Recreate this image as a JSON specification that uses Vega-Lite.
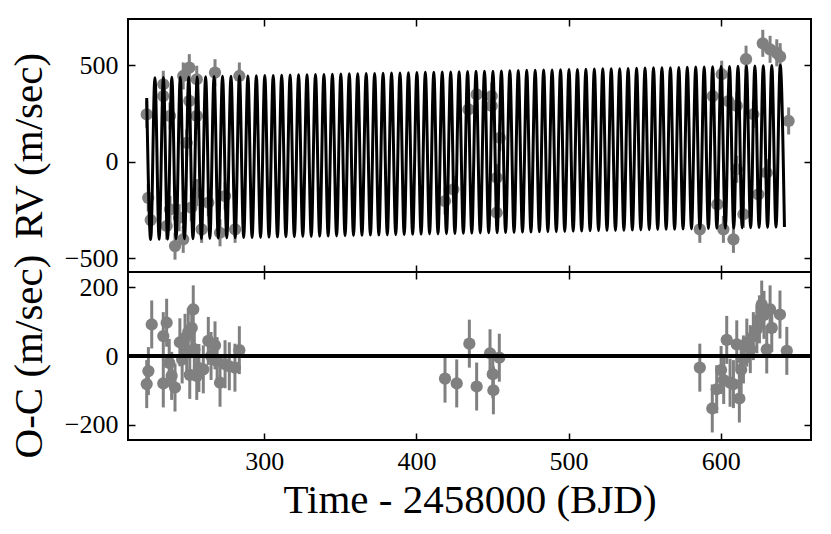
{
"$schema": "https://vega.github.io/schema/vega-lite/v6.json",
"padding": {"left": 7, "top": 17, "right": 15, "bottom": 5},
"bounds": "flush",
"spacing": 0,
"config": {
"view": {"stroke": "black", "strokeWidth": 2},
"font": "Liberation Serif",
"axis": {"labelFont": "Liberation Serif", "titleFont": "Liberation Serif", "labelFontSize": 26, "titleFontSize": 41, "titleFontWeight": "normal", "labelColor": "black", "titleColor": "black", "tickColor": "black", "tickSize": -7, "tickWidth": 1.5, "domain": false, "grid": false, "labelPadding": 17, "titlePadding": 14}
},
"datasets": {
"model": [
{"t":222.7,"v":330},{"t":225.32,"v":-403},
{"t":228.10,"v":435},{"t":230.88,"v":-402},{"t":233.66,"v":436},{"t":236.43,"v":-401},{"t":239.21,"v":437},{"t":241.99,"v":-400},{"t":244.77,"v":438},{"t":247.54,"v":-399},
{"t":250.32,"v":438},{"t":253.10,"v":-399},{"t":255.88,"v":439},{"t":258.65,"v":-398},{"t":261.43,"v":440},{"t":264.21,"v":-397},{"t":266.99,"v":441},{"t":269.76,"v":-396},{"t":272.54,"v":442},{"t":275.32,"v":-395},
{"t":278.10,"v":443},{"t":280.87,"v":-394},{"t":283.65,"v":444},{"t":286.43,"v":-393},{"t":289.21,"v":444},{"t":291.98,"v":-393},{"t":294.76,"v":445},{"t":297.54,"v":-392},{"t":300.32,"v":446},{"t":303.09,"v":-391},
{"t":305.87,"v":447},{"t":308.65,"v":-390},{"t":311.43,"v":448},{"t":314.20,"v":-389},{"t":316.98,"v":449},{"t":319.76,"v":-388},{"t":322.54,"v":450},{"t":325.31,"v":-387},{"t":328.09,"v":450},{"t":330.87,"v":-387},
{"t":333.65,"v":451},{"t":336.42,"v":-386},{"t":339.20,"v":452},{"t":341.98,"v":-385},{"t":344.76,"v":453},{"t":347.53,"v":-384},{"t":350.31,"v":454},{"t":353.09,"v":-383},{"t":355.87,"v":455},{"t":358.64,"v":-382},
{"t":361.42,"v":456},{"t":364.20,"v":-381},{"t":366.98,"v":457},{"t":369.75,"v":-380},{"t":372.53,"v":457},{"t":375.31,"v":-380},{"t":378.09,"v":458},{"t":380.86,"v":-379},{"t":383.64,"v":459},{"t":386.42,"v":-378},
{"t":389.20,"v":460},{"t":391.97,"v":-377},{"t":394.75,"v":461},{"t":397.53,"v":-376},{"t":400.31,"v":462},{"t":403.08,"v":-375},{"t":405.86,"v":463},{"t":408.64,"v":-374},{"t":411.42,"v":463},{"t":414.19,"v":-374},
{"t":416.97,"v":464},{"t":419.75,"v":-373},{"t":422.53,"v":465},{"t":425.30,"v":-372},{"t":428.08,"v":466},{"t":430.86,"v":-371},{"t":433.64,"v":467},{"t":436.41,"v":-370},{"t":439.19,"v":468},{"t":441.97,"v":-369},
{"t":444.75,"v":469},{"t":447.52,"v":-368},{"t":450.30,"v":469},{"t":453.08,"v":-368},{"t":455.86,"v":470},{"t":458.63,"v":-367},{"t":461.41,"v":471},{"t":464.19,"v":-366},{"t":466.97,"v":472},{"t":469.74,"v":-365},
{"t":472.52,"v":473},{"t":475.30,"v":-364},{"t":478.08,"v":474},{"t":480.85,"v":-363},{"t":483.63,"v":475},{"t":486.41,"v":-362},{"t":489.19,"v":475},{"t":491.96,"v":-362},{"t":494.74,"v":476},{"t":497.52,"v":-361},
{"t":500.30,"v":477},{"t":503.07,"v":-360},{"t":505.85,"v":478},{"t":508.63,"v":-359},{"t":511.41,"v":479},{"t":514.18,"v":-358},{"t":516.96,"v":480},{"t":519.74,"v":-357},{"t":522.52,"v":481},{"t":525.29,"v":-356},
{"t":528.07,"v":481},{"t":530.85,"v":-356},{"t":533.63,"v":482},{"t":536.40,"v":-355},{"t":539.18,"v":483},{"t":541.96,"v":-354},{"t":544.74,"v":484},{"t":547.51,"v":-353},{"t":550.29,"v":485},{"t":553.07,"v":-352},
{"t":555.85,"v":486},{"t":558.62,"v":-351},{"t":561.40,"v":487},{"t":564.18,"v":-350},{"t":566.96,"v":487},{"t":569.73,"v":-350},{"t":572.51,"v":488},{"t":575.29,"v":-349},{"t":578.07,"v":489},{"t":580.84,"v":-348},
{"t":583.62,"v":490},{"t":586.40,"v":-347},{"t":589.18,"v":491},{"t":591.95,"v":-346},{"t":594.73,"v":492},{"t":597.51,"v":-345},{"t":600.29,"v":493},{"t":603.06,"v":-344},{"t":605.84,"v":493},{"t":608.62,"v":-344},
{"t":611.40,"v":494},{"t":614.17,"v":-343},{"t":616.95,"v":495},{"t":619.73,"v":-342},{"t":622.51,"v":496},{"t":625.28,"v":-341},{"t":628.06,"v":497},{"t":630.84,"v":-340},{"t":633.62,"v":498},{"t":636.39,"v":-339},
{"t":639.17,"v":499},{"t":641.95,"v":-338}
],
"rv": [
{"t":222.7,"rv":245,"err":70},{"t":223.7,"rv":-187,"err":70},{"t":225.3,"rv":-302,"err":70},{"t":233.6,"rv":401,"err":70},{"t":233.6,"rv":340,"err":70},
{"t":238.0,"rv":237,"err":70},{"t":241.3,"rv":-437,"err":70},{"t":246.7,"rv":-402,"err":70},{"t":246.7,"rv":444,"err":70},{"t":250.7,"rv":487,"err":70},
{"t":255.6,"rv":427,"err":70},{"t":250.7,"rv":315,"err":70},{"t":255.6,"rv":237,"err":70},{"t":238.0,"rv":-247,"err":70},{"t":235.8,"rv":-333,"err":70},
{"t":258.8,"rv":-350,"err":70},{"t":263.2,"rv":-212,"err":70},{"t":267.6,"rv":461,"err":70},{"t":270.9,"rv":-368,"err":70},{"t":274.2,"rv":-178,"err":70},
{"t":280.8,"rv":-350,"err":70},{"t":283.6,"rv":444,"err":70},{"t":249.0,"rv":98,"err":70},{"t":255.6,"rv":-160,"err":70},{"t":244.0,"rv":-290,"err":70},
{"t":252.0,"rv":-238,"err":70},
{"t":418.8,"rv":-204,"err":70},{"t":424.3,"rv":-143,"err":70},{"t":434.2,"rv":271,"err":70},{"t":439.6,"rv":349,"err":70},{"t":449.5,"rv":340,"err":70},
{"t":449.5,"rv":289,"err":70},{"t":454.8,"rv":124,"err":70},{"t":452.8,"rv":-264,"err":70},{"t":452.8,"rv":-83,"err":70},
{"t":586.3,"rv":-350,"err":70},{"t":594.8,"rv":340,"err":70},{"t":597.8,"rv":-221,"err":70},{"t":600.7,"rv":453,"err":70},{"t":601.8,"rv":-350,"err":70},
{"t":605.1,"rv":314,"err":70},{"t":608.4,"rv":-402,"err":70},{"t":610.6,"rv":289,"err":70},{"t":615.0,"rv":-272,"err":70},{"t":616.7,"rv":531,"err":70},
{"t":621.5,"rv":246,"err":70},{"t":624.8,"rv":-169,"err":70},{"t":627.7,"rv":613,"err":70},{"t":632.5,"rv":582,"err":70},{"t":636.9,"rv":564,"err":70},
{"t":639.1,"rv":544,"err":70},{"t":644.7,"rv":211,"err":70},{"t":610.6,"rv":-39,"err":70},{"t":630.3,"rv":-57,"err":70}
],
"oc": [
{"t":222.7,"oc":-82,"err":70},{"t":223.8,"oc":-44,"err":70},{"t":226.0,"oc":92,"err":70},{"t":233.6,"oc":58,"err":70},{"t":233.6,"oc":-80,"err":70},
{"t":235.8,"oc":97,"err":70},{"t":239.1,"oc":-58,"err":70},{"t":241.3,"oc":-92,"err":70},{"t":237.5,"oc":-20,"err":70},{"t":244.5,"oc":40,"err":70},
{"t":246.0,"oc":-10,"err":70},{"t":247.9,"oc":53,"err":70},{"t":249.0,"oc":10,"err":70},{"t":250.0,"oc":70,"err":70},{"t":251.0,"oc":-55,"err":70},
{"t":252.3,"oc":82,"err":70},{"t":253.3,"oc":136,"err":70},{"t":254.0,"oc":20,"err":70},{"t":255.6,"oc":-58,"err":70},{"t":257.0,"oc":-35,"err":70},
{"t":259.9,"oc":-39,"err":70},{"t":263.2,"oc":44,"err":70},{"t":265.0,"oc":0,"err":70},{"t":267.6,"oc":31,"err":70},{"t":269.0,"oc":-15,"err":70},
{"t":270.9,"oc":-78,"err":70},{"t":274.2,"oc":-24,"err":70},{"t":277.0,"oc":-30,"err":70},{"t":280.7,"oc":-34,"err":70},{"t":283.6,"oc":17,"err":70},
{"t":418.8,"oc":-66,"err":70},{"t":426.5,"oc":-80,"err":70},{"t":434.8,"oc":36,"err":70},{"t":439.6,"oc":-89,"err":70},{"t":448.4,"oc":8,"err":70},
{"t":450.2,"oc":-53,"err":70},{"t":450.6,"oc":-100,"err":70},{"t":454.5,"oc":-5,"err":70},
{"t":586.3,"oc":-34,"err":70},{"t":594.5,"oc":-153,"err":70},{"t":597.4,"oc":-97,"err":70},{"t":600.3,"oc":-41,"err":70},{"t":602.0,"oc":-70,"err":70},
{"t":604.0,"oc":47,"err":70},{"t":606.2,"oc":-78,"err":70},{"t":608.4,"oc":-82,"err":70},{"t":610.6,"oc":34,"err":70},{"t":612.3,"oc":-124,"err":70},
{"t":613.5,"oc":-40,"err":70},{"t":615.0,"oc":-10,"err":70},{"t":617.2,"oc":39,"err":70},{"t":619.5,"oc":20,"err":70},{"t":621.5,"oc":58,"err":70},
{"t":623.8,"oc":78,"err":70},{"t":625.5,"oc":107,"err":70},{"t":627.0,"oc":150,"err":70},{"t":628.5,"oc":120,"err":70},{"t":630.3,"oc":19,"err":70},
{"t":632.5,"oc":136,"err":70},{"t":633.6,"oc":82,"err":70},{"t":639.0,"oc":121,"err":70},{"t":643.5,"oc":15,"err":70}
]
},
"vconcat": [
{
"width": 683, "height": 253,
"layer": [
{"data": {"name": "rv"}, "mark": {"type": "errorbar", "color": "#808080", "thickness": 3},
 "encoding": {
  "x": {"field": "t", "type": "quantitative", "scale": {"domain": [210.4, 659.4], "nice": false, "zero": false}, "axis": {"orient": "top", "values": [300, 400, 500, 600], "labels": false, "title": null}},
  "y": {"field": "rv", "type": "quantitative", "scale": {"domain": [-571, 739], "nice": false, "zero": false}, "axis": {"orient": "right", "values": [-500, 0, 500], "labels": false, "title": null}},
  "yError": {"field": "err"}}},
{"data": {"name": "rv"}, "mark": {"type": "circle", "size": 150, "color": "#808080", "opacity": 1},
 "encoding": {
  "x": {"field": "t", "type": "quantitative", "scale": {"domain": [210.4, 659.4], "nice": false, "zero": false}, "axis": {"orient": "bottom", "values": [300, 400, 500, 600], "labels": false, "title": null}},
  "y": {"field": "rv", "type": "quantitative", "scale": {"domain": [-571, 739], "nice": false, "zero": false}, "axis": {"orient": "left", "values": [-500, 0, 500], "title": "RV (m/sec)"}}}},
{"data": {"name": "model"}, "mark": {"type": "line", "color": "black", "strokeWidth": 3, "interpolate": "monotone"},
 "encoding": {
  "x": {"field": "t", "type": "quantitative", "scale": {"domain": [210.4, 659.4], "nice": false, "zero": false}, "axis": null},
  "y": {"field": "v", "type": "quantitative", "scale": {"domain": [-571, 739], "nice": false, "zero": false}, "axis": null}}}
],
"resolve": {"axis": {"x": "independent", "y": "independent"}}
},
{
"width": 683, "height": 168,
"layer": [
{"data": {"name": "oc"}, "mark": {"type": "errorbar", "color": "#808080", "thickness": 3},
 "encoding": {
  "x": {"field": "t", "type": "quantitative", "scale": {"domain": [210.4, 659.4], "nice": false, "zero": false}, "axis": {"orient": "top", "values": [300, 400, 500, 600], "labels": false, "title": null}},
  "y": {"field": "oc", "type": "quantitative", "scale": {"domain": [-245, 245], "nice": false, "zero": false}, "axis": {"orient": "right", "values": [-200, 0, 200], "labels": false, "title": null}},
  "yError": {"field": "err"}}},
{"data": {"name": "oc"}, "mark": {"type": "circle", "size": 150, "color": "#808080", "opacity": 1},
 "encoding": {
  "x": {"field": "t", "type": "quantitative", "scale": {"domain": [210.4, 659.4], "nice": false, "zero": false}, "axis": {"orient": "bottom", "values": [300, 400, 500, 600], "title": "Time - 2458000 (BJD)", "labelPadding": 15, "titlePadding": 6}},
  "y": {"field": "oc", "type": "quantitative", "scale": {"domain": [-245, 245], "nice": false, "zero": false}, "axis": {"orient": "left", "values": [-200, 0, 200], "title": "O-C (m/sec)"}}}},
{"data": {"name": "oc"}, "mark": {"type": "rule", "color": "black", "strokeWidth": 3},
 "encoding": {
  "y": {"datum": 0, "type": "quantitative", "scale": {"domain": [-245, 245], "nice": false, "zero": false}, "axis": null}}}
],
"resolve": {"axis": {"x": "independent", "y": "independent"}}
}
]
}
